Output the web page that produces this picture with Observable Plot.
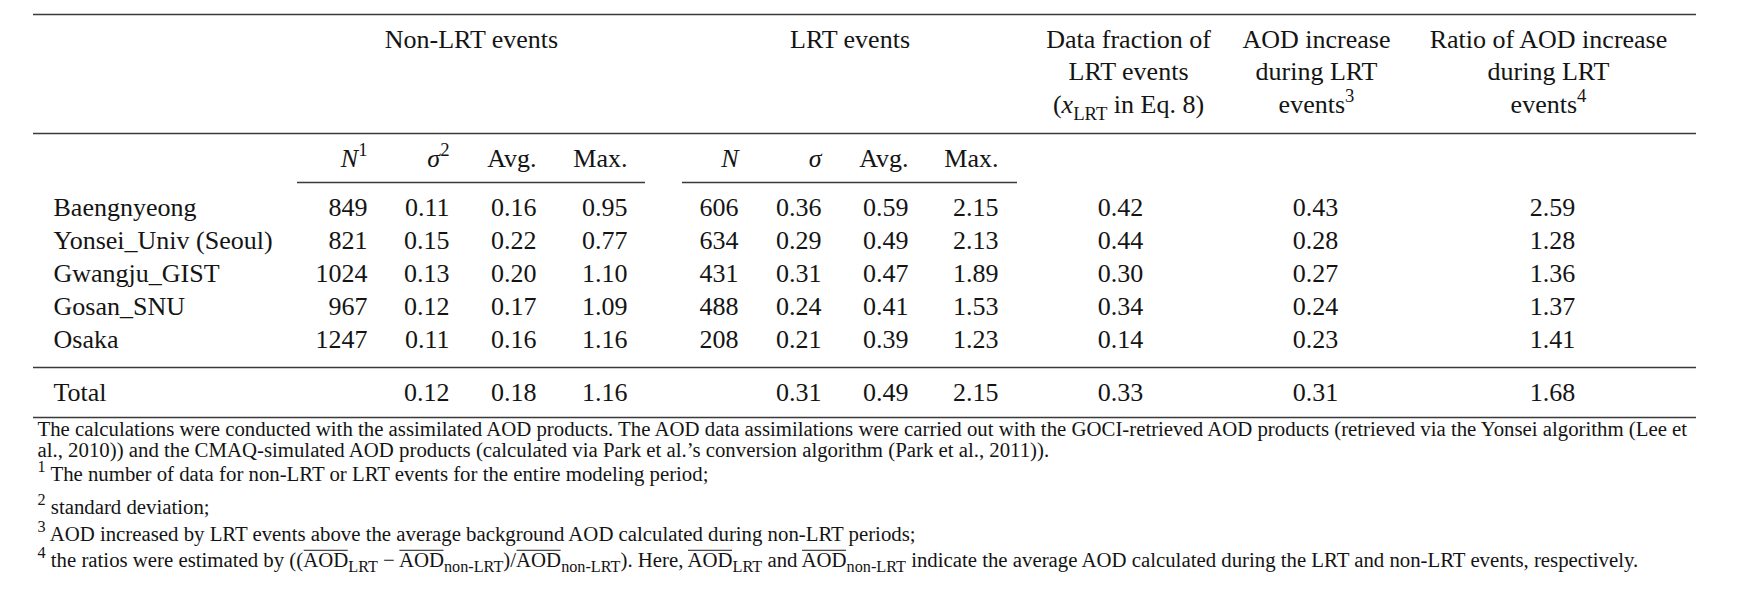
<!DOCTYPE html>
<html>
<head>
<meta charset="utf-8">
<script src="https://cdn.jsdelivr.net/npm/d3@7"></script>
<script src="https://cdn.jsdelivr.net/npm/@observablehq/plot@0.6"></script>
<style>
html, body { margin: 0; padding: 0; background: #fff; }
#chart svg { display: block; }
</style>
</head>
<body>
<div id="chart"></div>
<script>
// ---------------- DATA ----------------
const stations = ["Baengnyeong", "Yonsei_Univ (Seoul)", "Gwangju_GIST", "Gosan_SNU", "Osaka"];
const nonN      = [849, 821, 1024, 967, 1247];
const nonSigma  = [0.11, 0.15, 0.13, 0.12, 0.11];
const nonAvg    = [0.16, 0.22, 0.20, 0.17, 0.16];
const nonMax    = [0.95, 0.77, 1.10, 1.09, 1.16];
const lrtN      = [606, 634, 431, 488, 208];
const lrtSigma  = [0.36, 0.29, 0.31, 0.24, 0.21];
const lrtAvg    = [0.59, 0.49, 0.47, 0.41, 0.39];
const lrtMax    = [2.15, 2.13, 1.89, 1.53, 1.23];
const lrtFraction = [0.42, 0.44, 0.30, 0.34, 0.14];
const aodIncrease = [0.43, 0.28, 0.27, 0.24, 0.23];
const aodRatio    = [2.59, 1.28, 1.36, 1.37, 1.41];
const totalLabel  = "Total";
const totalValues = [null, 0.12, 0.18, 1.16, null, 0.31, 0.49, 2.15, 0.33, 0.31, 1.68];

const groupHeaders = ["Non-LRT events", "LRT events"];
const subHeaders   = ["*N*^{1}", "*σ*^{2}", "Avg.", "Max.", "*N*", "*σ*", "Avg.", "Max."];
const sideHeaders  = [
  "Data fraction of\nLRT events\n(*x*_{LRT} in Eq. 8)",
  "AOD increase\nduring LRT\nevents^{3}",
  "Ratio of AOD increase\nduring LRT\nevents^{4}"
];
const notes = [
  "The calculations were conducted with the assimilated AOD products. The AOD data assimilations were carried out with the GOCI-retrieved AOD products (retrieved via the Yonsei algorithm (Lee et",
  "al., 2010)) and the CMAQ-simulated AOD products (calculated via Park et al.’s conversion algorithm (Park et al., 2011)).",
  "^{1} The number of data for non-LRT or LRT events for the entire modeling period;",
  "^{2} standard deviation;",
  "^{3} AOD increased by LRT events above the average background AOD calculated during non-LRT periods;",
  "^{4} the ratios were estimated by ((~{AOD}_{LRT} − ~{AOD}_{non-LRT})/~{AOD}_{non-LRT}). Here, ~{AOD}_{LRT} and ~{AOD}_{non-LRT} indicate the average AOD calculated during the LRT and non-LRT events, respectively."
];

// ---------------- LAYOUT ----------------
const W = 1751, H = 598;
const L = {
  left: 33, right: 1696,
  rules: {top: 14, head: 133, total: 367, bottom: 417},
  subRuleY: 182,
  groupSpans: [[297, 645], [682, 1017]],
  headBase: 47, headLine: 32.5,
  subBase: 166,
  rowBase: 215, rowStep: 33.2,
  totalBase: 400,
  labelX: 53,
  colX: [367, 449, 536, 627, 738, 821, 908, 998, 1120, 1315, 1552],
  colAnchor: ["end","end","end","end","end","end","end","end","middle","middle","middle"],
  sideX: [1128, 1316, 1548],
  noteX: 37,
  noteBase: [435, 456, 480, 513, 540, 566],
  tableFont: 26, noteFont: 20.8
};
const ink = "#141414", ruleInk = "#3a3a3a";

const columnSeries = [nonN, nonSigma, nonAvg, nonMax, lrtN, lrtSigma, lrtAvg, lrtMax, lrtFraction, aodIncrease, aodRatio];
const fmtInt = d3.format("d"), fmtDec = d3.format(".2f");
const fmt = (c, v) => (c === 0 || c === 4) ? fmtInt(v) : fmtDec(v);

const cells = [];
columnSeries.forEach((series, c) => {
  series.forEach((v, r) => cells.push({c, r, text: fmt(c, v)}));
  if (totalValues[c] != null) cells.push({c, r: "total", text: fmt(c, totalValues[c])});
});
const rowY = r => r === "total" ? L.totalBase : L.rowBase + r * L.rowStep;
const labels = stations.map((s, r) => ({text: s, r})).concat([{text: totalLabel, r: "total"}]);

const hRules = [
  ...Object.values(L.rules).map(y => ({y, x1: L.left, x2: L.right})),
  ...L.groupSpans.map(([x1, x2]) => ({y: L.subRuleY, x1, x2}))
];
const groups = groupHeaders.map((text, i) => ({text, x: (L.groupSpans[i][0] + L.groupSpans[i][1]) / 2}));
const subs = subHeaders.map((text, c) => ({text, x: L.colX[c]}));
const sides = sideHeaders.map((text, i) => ({text, x: L.sideX[i]}));
const noteRows = notes.map((text, i) => ({text, y: L.noteBase[i]}));

const font = "Liberation Serif, Times New Roman, serif";
const base = {fill: ink, fontFamily: font, fontSize: L.tableFont, lineAnchor: "bottom"};

const svg = Plot.plot({
  width: W, height: H,
  margin: 0,
  x: {domain: [0, W], range: [0, W], axis: null},
  y: {domain: [0, H], range: [0, H], axis: null},
  style: {fontFamily: font, background: "#fff", color: ink},
  marks: [
    Plot.ruleY(hRules, {y: "y", x1: "x1", x2: "x2", stroke: ruleInk, strokeWidth: 1.6}),
    Plot.text(groups, {...base, x: "x", y: () => L.headBase, text: "text", textAnchor: "middle"}),
    Plot.text(sides, {...base, x: "x", y: () => L.headBase + 2 * L.headLine, text: "text", textAnchor: "middle", lineHeight: L.headLine / L.tableFont}),
    Plot.text(subs, {...base, x: "x", y: () => L.subBase, text: "text", textAnchor: "end"}),
    Plot.text(cells.filter(d => L.colAnchor[d.c] === "end"), {...base, x: d => L.colX[d.c], y: d => rowY(d.r), text: "text", textAnchor: "end"}),
    Plot.text(cells.filter(d => L.colAnchor[d.c] === "middle"), {...base, x: d => L.colX[d.c], y: d => rowY(d.r), text: "text", textAnchor: "middle"}),
    Plot.text(labels, {...base, x: () => L.labelX, y: d => rowY(d.r), text: "text", textAnchor: "start"}),
    Plot.text(noteRows, {...base, fontSize: L.noteFont, x: () => L.noteX, y: "y", text: "text", textAnchor: "start"})
  ]
});
document.getElementById("chart").appendChild(svg);

// ---------- rich text: *italic*, ^{sup}, _{sub}, ~{overline} ----------
function parseRich(raw) {
  const segs = []; let buf = "", italic = false, i = 0;
  const push = (text, mode, it) => { if (text) segs.push({text, mode, italic: it}); };
  while (i < raw.length) {
    const ch = raw[i];
    if ((ch === "^" || ch === "_" || ch === "~") && raw[i + 1] === "{") {
      push(buf, null, italic); buf = "";
      const j = raw.indexOf("}", i + 2);
      push(raw.slice(i + 2, j), ch, ch === "~" ? italic : false);
      i = j + 1;
    } else if (ch === "*") {
      push(buf, null, italic); buf = ""; italic = !italic; i++;
    } else { buf += ch; i++; }
  }
  push(buf, null, italic);
  return segs;
}
const NS = "http://www.w3.org/2000/svg";
const leaves = [];
svg.querySelectorAll("text").forEach(t => {
  const ts = t.querySelectorAll("tspan");
  if (ts.length) ts.forEach(s => leaves.push(s)); else leaves.push(t);
});
const overlined = [];
for (const el of leaves) {
  const raw = el.textContent;
  if (!/[\^_~]\{|\*/.test(raw)) continue;
  const fs = parseFloat(getComputedStyle(el).fontSize);
  const small = fs < 24 ? 0.78 : 0.72;
  const segs = parseRich(raw);
  el.textContent = "";
  let shift = 0;
  for (const s of segs) {
    const t = document.createElementNS(NS, "tspan");
    const target = s.mode === "^" ? -0.42 * fs : s.mode === "_" ? 0.28 * fs : 0;
    if (target !== shift) { t.setAttribute("dy", target - shift); shift = target; }
    if (s.mode === "^" || s.mode === "_") t.setAttribute("font-size", small * fs);
    if (s.italic) t.setAttribute("font-style", "italic");
    t.textContent = s.text;
    el.appendChild(t);
    if (s.mode === "~") overlined.push({t, fs});
  }
}
// overbars drawn above the glyph runs that carry them
for (const {t, fs} of overlined) {
  const textEl = t.closest("text");
  const n = t.getNumberOfChars();
  const p0 = t.getStartPositionOfChar(0), p1 = t.getEndPositionOfChar(n - 1);
  const yb = p0.y - 0.78 * fs;
  const line = document.createElementNS(NS, "line");
  line.setAttribute("x1", p0.x + 0.5); line.setAttribute("x2", p1.x - 0.5);
  line.setAttribute("y1", yb); line.setAttribute("y2", yb);
  line.setAttribute("stroke", ink); line.setAttribute("stroke-width", 1);
  const tr = textEl.getAttribute("transform");
  if (tr) line.setAttribute("transform", tr);
  textEl.parentNode.appendChild(line);
}
</script>
</body>
</html>
